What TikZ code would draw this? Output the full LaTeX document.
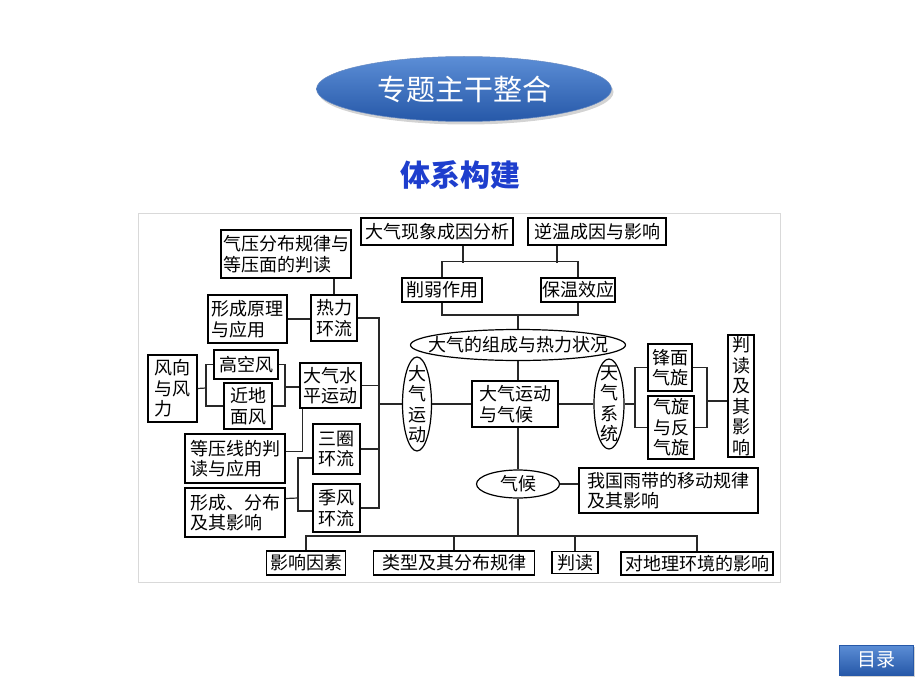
\documentclass[tikz,border=0pt]{standalone}
\usepackage{fontspec}
\setmainfont{Noto Sans CJK SC}
\usepackage{tikz}
\usetikzlibrary{shapes.geometric, shadows}

\definecolor{titleblue}{RGB}{30,62,205}
\definecolor{btntop}{RGB}{92,142,214}
\definecolor{btnbottom}{RGB}{38,88,168}
\definecolor{linegray}{RGB}{40,40,40}

\begin{document}
\begin{tikzpicture}[
	x=1pt, y=-1pt,
	box/.style={rectangle, draw, line width=1.2pt, fill=white, inner sep=0pt, align=left, font=\fontsize{18}{20.5}\selectfont},
	oval/.style={ellipse, draw, line width=1.2pt, fill=white, inner sep=0pt, align=center, font=\fontsize{18}{20.5}\selectfont},
	link/.style={draw=linegray, line width=1.2pt},
	frame/.style={draw=black!15, line width=0.8pt},
	banner/.style={ellipse, top color=btntop, bottom color=btnbottom, draw=btnbottom!70!white, line width=0.5pt, drop shadow={shadow xshift=2pt, shadow yshift=-3pt, opacity=0.35}, text=white, font=\fontsize{29}{32}\selectfont},
	button/.style={rectangle, top color=btntop, bottom color=btnbottom, draw=btnbottom, line width=0.5pt, drop shadow={shadow xshift=1.5pt, shadow yshift=-2pt, opacity=0.35}, text=white, font=\fontsize{19}{22}\selectfont},
	wh/.style 2 args={minimum width=#1pt, minimum height=#2pt}
	]
	\useasboundingbox (0,0) rectangle (920,690);
	
	% Header
	\node (banner) [banner, wh={295}{65}] at (464,89) {专题主干整合};
	\node (title) [text=titleblue, font=\fontsize{30}{34}\selectfont\bfseries] at (460,175) {体系构建};
	\node (menu) [button, wh={74}{30}] at (876,660) {目录};
	\draw[frame] (138,213) rectangle (780,582);
	
	% Nodes
	\node (xianxiang) [box, wh={152}{27}] at (437,231.5) {大气现象成因分析};
	\node (niwen) [box, wh={138}{27}] at (597,231.5) {逆温成因与影响};
	\node (xueruo) [box, wh={80}{24}] at (442,290) {削弱作用};
	\node (baowen) [box, wh={74}{24}] at (578,290) {保温效应};
	\node (zucheng) [oval, wh={215}{31}, inner xsep=-20pt, inner ysep=-6pt] at (518,345) {大气的组成与热力状况};
	
	\node (qiya) [box, wh={130}{48}] at (286,254) {气压分布规律与\\等压面的判读};
	\node (yuanli) [box, wh={79}{48}] at (247.5,319) {形成原理\\与应用};
	\node (reli) [box, wh={46}{46}] at (334,318) {热力\\环流};
	\node (fengxiang) [box, wh={49}{67}] at (172.5,388.5) {风向\\与风\\力};
	\node (gaokong) [box, wh={64}{29}] at (246,364.5) {高空风};
	\node (jindi) [box, wh={48}{46}] at (248,406) {近地\\面风};
	\node (shuiping) [box, wh={61}{45}] at (330.5,385.5) {大气水\\平运动};
	\node (dengya) [box, wh={100}{49}] at (235,458.5) {等压线的判\\读与应用};
	\node (sanquan) [box, wh={47}{50}] at (336.5,449) {三圈\\环流};
	\node (jifeng) [box, wh={47}{48}] at (336.5,508) {季风\\环流};
	\node (fenbu) [box, wh={100}{49}] at (235,512.5) {形成、分布\\及其影响};
	
	\node (yundong) [oval, wh={29}{94}, inner ysep=-14pt] at (417,404) {大\\气\\运\\动};
	\node (qihou) [box, wh={86}{46}] at (515,404) {大气运动\\与气候};
	\node (tianqi) [oval, wh={30}{90}, inner ysep=-14pt] at (609,404) {天\\气\\系\\统};
	\node (fengmian) [box, wh={44}{47}] at (670,367.5) {锋面\\气旋};
	\node (qixuan) [box, wh={46}{63}] at (671,427.5) {气旋\\与反\\气旋};
	\node (panduyx) [box, wh={26}{122}, align=center] at (741,396) {判\\读\\及\\其\\影\\响};
	\node (climate) [oval, wh={83}{28}] at (518,484) {气候};
	\node (yudai) [box, wh={179}{45}] at (668.5,490.5) {我国雨带的移动规律\\及其影响};
	
	\node (yinsu) [box, wh={79}{24}] at (306,563) {影响因素};
	\node (leixing) [box, wh={161}{24}] at (454,563) {类型及其分布规律};
	\node (pandu) [box, wh={46}{22}] at (575,562.5) {判读};
	\node (huanjing) [box, wh={152}{23}] at (697,563.5) {对地理环境的影响};
	
	% Junctions
	\coordinate (trunk) at (379,509);
	\coordinate (fxj) at (206,388);
	\coordinate (gjj) at (285,387);
	\coordinate (xcj) at (298,498);
	\coordinate (tqj) at (635,404);
	\coordinate (pdj) at (707,401);
	\coordinate (midbar) at (518,315);
	\coordinate (bbar) at (518,536);
	
	% Lines
	\draw[link] ([xshift=26pt]xianxiang.south) -- ++(0,17);
	\draw[link] ([xshift=-40pt]niwen.south) -- ++(0,17);
	\draw[link] (xueruo.north) -- ++(0,-16) -| (baowen.north);
	\draw[link] (xueruo.south) |- (midbar) -| (baowen.south);
	\draw[link] (midbar) -- (zucheng.north);
	\draw[link] (zucheng.south) -- (zucheng.south |- qihou.north);
	
	\draw[link] (reli.north) -- (reli.north |- qiya.south);
	\draw[link] (yuanli.east) -- (yuanli.east -| reli.west);
	\draw[link] (reli.east) -| (trunk);
	\draw[link] (shuiping.east) -- (shuiping.east -| trunk);
	\draw[link] (sanquan.east) -- (sanquan.east -| trunk);
	\draw[link] (jifeng.east) -- (jifeng.east -| trunk);
	\draw[link] (gaokong.west) -| (fxj) |- (jindi.west);
	\draw[link] (fengxiang.east) -- (fxj);
	\draw[link] (gaokong.east) -| (gjj) |- (jindi.east);
	\draw[link] (gjj) -- (gjj -| shuiping.west);
	\draw[link] ([yshift=7pt]dengya.east) -| ([xshift=3pt]shuiping.south west);
	\draw[link] ([yshift=-9pt]sanquan.west) -| (xcj) |- ([yshift=-3pt]jifeng.west);
	\draw[link] ([yshift=14pt]fenbu.east) -- (xcj);
	
	\draw[link] (yundong.west) -- (yundong.west -| trunk);
	\draw[link] (yundong.east) -- (qihou.west);
	\draw[link] (qihou.east) -- (tianqi.west);
	\draw[link] (tianqi.east) -- (tqj);
	\draw[link] (fengmian.west) -| (tqj) |- (qixuan.west);
	\draw[link] (fengmian.east) -| (pdj) |- (qixuan.east);
	\draw[link] (pdj) -- (pdj -| panduyx.west);
	
	\draw[link] (qihou.south -| climate.north) -- (climate.north);
	\draw[link] (climate.east) -- (climate.east -| yudai.west);
	\draw[link] (climate.south) -- (bbar);
	\draw[link] (yinsu.north) |- (bbar) -| (huanjing.north);
	\draw[link] (leixing.north) -- (leixing.north |- bbar);
	\draw[link] (pandu.north) -- (pandu.north |- bbar);
	
\end{tikzpicture}
\end{document}
